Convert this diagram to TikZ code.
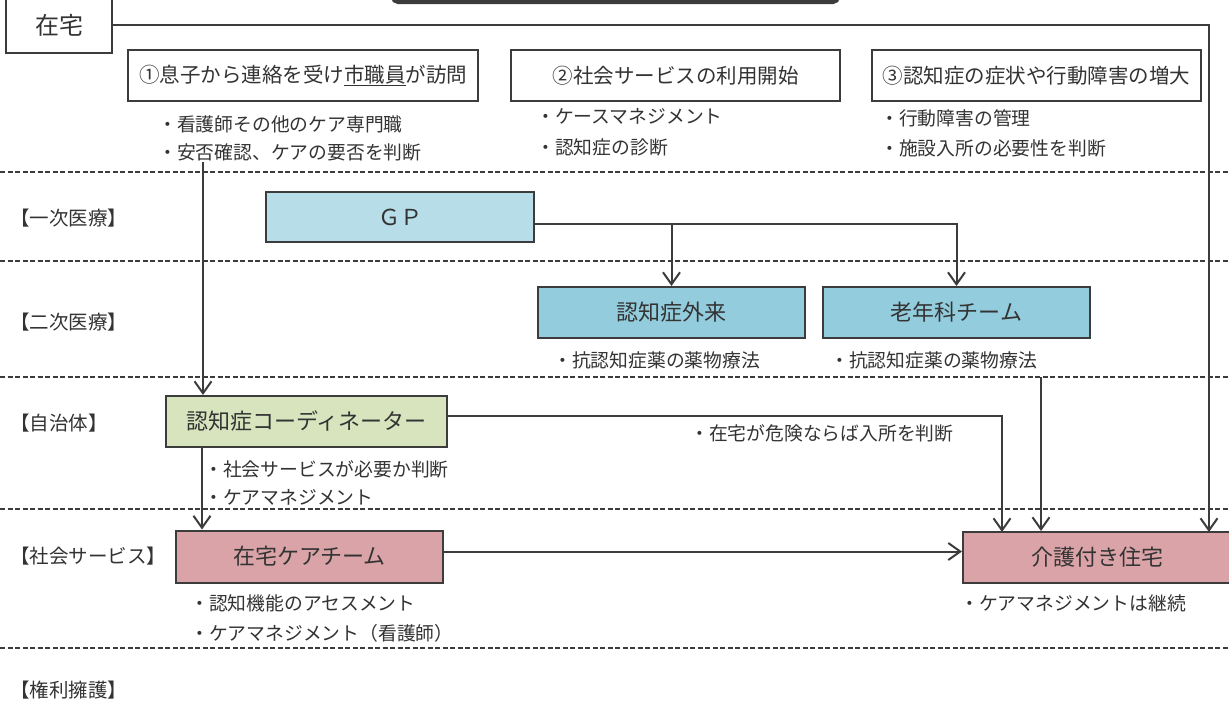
\documentclass[tikz,border=0pt]{standalone}
\usepackage{fontspec}
\setmainfont{Noto Sans CJK JP}
\usetikzlibrary{arrows.meta}
\definecolor{ln}{HTML}{3C3C3C}
\definecolor{txt}{HTML}{333333}
\definecolor{blueA}{HTML}{B7DEE8}
\definecolor{blueB}{HTML}{93CDDD}
\definecolor{greenA}{HTML}{D7E4BD}
\definecolor{pinkA}{HTML}{D9A3A7}
\begin{document}
\begin{tikzpicture}[x=1pt,y=-1pt,
  box/.style={draw=ln, line width=2pt, inner sep=0pt, align=center, text=txt},
  plainbox/.style={box, line width=1.6pt, fill=white, font=\fontsize{20.5pt}{24pt}\selectfont},
  bigbox/.style={box, font=\fontsize{22pt}{26pt}\selectfont},
  arr/.style={draw=ln, line width=2pt, -{Straight Barb[length=12pt,width=17pt]}},
  sep/.style={draw=ln, line width=1.2pt, dash pattern=on 5pt off 2.5pt},
  note/.style={anchor=west, inner sep=0pt, text=txt, font=\fontsize{18.8pt}{22pt}\selectfont},
  rowlabel/.style={anchor=west, inner sep=0pt, text=txt, font=\fontsize{19.5pt}{23pt}\selectfont}
]
\useasboundingbox (0,0) rectangle (1229,705);
\fill[white] (0,0) rectangle (1229,705);

% top partially visible title box
\draw[draw=ln, line width=4pt, rounded corners=5pt] (393,-40) rectangle (838,2);

% separators
\foreach \yy in {172,261,377,509,648}
  \draw[sep] (0,\yy) -- (1229,\yy);

% row labels
\node[rowlabel] (l1) at (10,218) {【一次医療】};
\node[rowlabel] (l2) at (10,322) {【二次医療】};
\node[rowlabel] (l3) at (10,423) {【自治体】};
\node[rowlabel] (l4) at (10,556) {【社会サービス】};
\node[rowlabel] (l5) at (10,690) {【権利擁護】};

% home
\node[box, fill=white, minimum width=106pt, minimum height=56pt,
      font=\fontsize{24pt}{28pt}\selectfont] (zaitaku) at (59,25) {在宅};

% stage boxes
\node[plainbox, minimum width=350pt, minimum height=51pt] (b1) at (303,75.5)
  {①息子から連絡を受け\underline{市職員}が訪問};
\node[plainbox, minimum width=329pt, minimum height=51pt] (b2) at (675.5,75.5)
  {②社会サービスの利用開始};
\node[plainbox, minimum width=329pt, minimum height=51pt] (b3) at (1036.5,75.5)
  {③認知症の症状や行動障害の増大};

\node[note] (n11) at (158,124) {・看護師その他のケア専門職};
\node[note] (n12) at (158,152) {・安否確認、ケアの要否を判断};
\node[note] (n21) at (536,116) {・ケースマネジメント};
\node[note] (n22) at (536,147) {・認知症の診断};
\node[note] (n31) at (880,118) {・行動障害の管理};
\node[note] (n32) at (880,148) {・施設入所の必要性を判断};

% medical
\node[bigbox, fill=blueA, minimum width=268pt, minimum height=50pt] (gp) at (400,217) {ＧＰ};
\node[bigbox, fill=blueB, minimum width=267pt, minimum height=51pt] (gaira) at (671.5,312.5) {認知症外来};
\node[bigbox, fill=blueB, minimum width=267pt, minimum height=51pt] (ronen) at (956.5,312.5) {老年科チーム};
\node[note] (n41) at (553,360) {・抗認知症薬の薬物療法};
\node[note] (n42) at (830,360) {・抗認知症薬の薬物療法};

% municipality
\node[bigbox, fill=greenA, minimum width=281pt, minimum height=51pt] (coord) at (306.5,421.5) {認知症コーディネーター};
\node[note] (n51) at (204,469) {・社会サービスが必要か判断};
\node[note] (n52) at (204,497) {・ケアマネジメント};
\node[note] (n53) at (690,433) {・在宅が危険ならば入所を判断};

% social service
\node[bigbox, fill=pinkA, minimum width=267pt, minimum height=52pt] (team) at (309.5,556.5) {在宅ケアチーム};
\node[note] (n61) at (190,603) {・認知機能のアセスメント};
\node[note] (n62) at (190,633) {・ケアマネジメント（看護師）};
\node[bigbox, fill=pinkA, minimum width=268pt, minimum height=51pt] (kaigo) at (1097,557.5) {介護付き住宅};
\node[note] (n71) at (960,603) {・ケアマネジメントは継続};

% helper coordinates
\coordinate (s1) at (203,162);
\coordinate (s2) at (202,0);
\coordinate (kA) at (1002,532);
\coordinate (kB) at (1041,377);
\coordinate (kC) at (1209,532);
\coordinate (gj) at (gaira.north |- gp.east);
\coordinate (tE) at ([yshift=5pt]team.east);

% connectors
\draw[arr] (zaitaku.east) -| (kC);
\draw[arr] (s1) -- (s1 |- coord.north);
\draw[arr] ([yshift=-7pt]gp.east) -| (ronen.north);
\draw[arr] ([yshift=-7pt]gj) -- (gaira.north);
\draw[arr] ([yshift=6pt]coord.east) -| (kA);
\draw[arr] (kB) -- (kB |- kaigo.north);
\draw[arr] (coord.south -| s2) -- (team.north -| s2);
\draw[arr] (tE) -- (tE -| kaigo.west);
\end{tikzpicture}
\end{document}
